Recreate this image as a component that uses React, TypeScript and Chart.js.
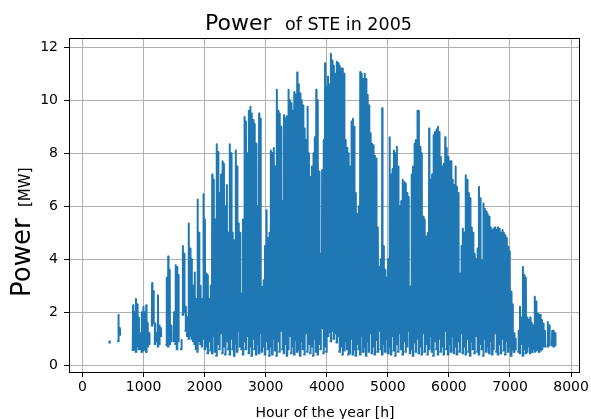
import React, { useEffect, useRef } from "react";
import { Chart, registerables } from "chart.js";

Chart.register(...registerables);

const FONT = "'DejaVu Sans', 'Liberation Sans', sans-serif";

const xTicks = [0, 1000, 2000, 3000, 4000, 5000, 6000, 7000, 8000];
const yTicks = [0, 2, 4, 6, 8, 10, 12];

// first day of the year (0-based) with output
const firstDay = 18;
// hours of the day used for a day's start, peak, end and night break
const riseHour = 7;
const noonHour = 12;
const setHour = 17;
const nightHour = 20;

// daily peak power [MW], day 18 .. day 322 (null = no output that day)
const dailyPeak: (number | null)[] = [
  0.9, null, null, null, null, null, 1.9, 1.4, null, null, // 18
  null, null, null, null, null, null, 2.26, 2.0, 2.5, 2.3, // 28
  1.8, 1.2, 2.0, 2.2, 2.0, 2.26, 1.6, 1.2, null, 3.1, // 38
  2.8, 1.57, 1.2, 2.64, 1.5, 1.4, null, null, null, 3.3, // 48
  4.1, 3.6, 1.5, null, 2.0, 3.77, 3.7, 3.4, null, 0.95, // 58
  4.5, 4.2, 2.2, 1.8, 5.35, 4.4, 4.0, 3.0, 3.5, 2.5, // 68
  6.25, 5.0, 3.0, 2.5, 6.45, 5.5, 3.46, 3.4, 2.5, 3.0, // 78
  7.2, 7.0, 5.5, 8.34, 8.05, 6.5, 7.2, 7.7, 7.6, 6.0, // 88
  6.8, 5.0, 8.34, 8.0, 5.0, 4.7, 8.1, 7.5, 5.35, 5.0, // 98
  2.7, 5.5, 9.37, 9.2, 8.0, 9.6, 9.75, 9.5, 9.25, 9.1, // 108
  8.36, 6.0, 9.5, 9.3, 2.95, 3.2, 4.5, 5.85, 4.8, 5.0, // 118
  8.1, 8.0, 8.2, 7.5, 10.4, 9.6, 9.5, 9.0, 6.2, 9.43, // 128
  9.3, 9.4, 10.4, 10.0, 9.9, 9.6, 10.3, 10.2, 11.05, 10.6, // 138
  10.25, 10.0, 9.8, 8.93, 8.5, 9.75, 8.0, 7.1, 7.5, 8.0, // 148
  8.6, 10.4, 10.0, 7.3, 4.2, 7.36, 8.5, 11.4, 10.5, 10.9, // 158
  10.6, 11.76, 11.5, 11.3, 11.0, 11.45, 11.4, 11.3, 11.2, 11.2, // 168
  11.0, 8.5, 8.2, 8.0, 7.5, 9.2, 9.3, 9.0, 6.5, 5.7, // 178
  6.0, 11.07, 11.0, 10.8, 11.0, 10.8, 10.2, 9.8, 8.75, 8.36, // 188
  8.3, 7.9, 7.8, 5.2, 3.7, 4.0, 9.7, 4.5, 3.6, 3.3, // 198
  4.0, 8.6, 7.2, 7.4, 8.1, 8.0, 8.24, 7.5, 6.0, 6.2, // 208
  7.0, 6.9, 6.86, 6.5, 6.35, 2.96, 7.2, 7.5, 8.36, 8.5, // 218
  9.6, 9.6, 8.24, 8.0, 5.6, 5.5, 4.85, 5.0, 8.93, 7.0, // 228
  7.2, 8.68, 8.8, 8.9, 9.0, 8.8, 7.86, 7.5, 7.6, 8.6, // 238
  8.2, 7.86, 7.7, 7.7, 7.0, 6.8, 7.5, 6.73, 6.5, 3.46, // 248
  4.5, 5.16, 5.0, 7.17, 7.0, 6.5, 6.3, 5.2, 5.0, 4.2, // 258
  4.0, 4.4, 6.73, 6.3, 3.96, 6.1, 5.9, 5.8, 5.7, 5.6, // 268
  5.2, 5.1, 5.16, 5.2, 5.1, 5.2, 5.15, 5.0, 5.1, 5.0, // 278
  4.9, 4.8, 4.47, 4.3, 2.77, 2.3, 1.2, 1.0, null, 1.3, // 288
  2.2, 1.8, 3.7, 3.4, 3.3, 1.8, 1.7, 1.8, 1.6, 1.5, // 298
  2.58, 2.4, 1.95, 1.9, 1.9, 1.7, 1.57, 1.3, null, 1.63, // 308
  1.5, null, 1.3, 1.3, 1.2, // 318
];

// daily morning / evening power [MW], same days
const dailyLow: (number | null)[] = [
  0.85, null, null, null, null, null, 0.9, 1.15, null, null, // 18
  null, null, null, null, null, null, 0.57, 0.6, 0.5, 0.7, // 28
  0.6, 0.6, 0.5, 0.55, 0.6, 0.5, 0.7, 0.8, null, 1.5, // 38
  1.6, 0.8, 0.9, 0.7, 0.8, 1.1, null, null, null, 0.75, // 48
  0.7, 0.8, 0.9, null, 0.9, 0.8, 0.6, 0.9, null, 0.6, // 58
  1.9, 2.0, 1.3, 1.1, 1.0, 1.1, 1.0, 0.9, 0.8, 0.6, // 68
  0.5, 0.9, 0.8, 0.7, 1.0, 0.6, 0.7, 0.45, 0.9, 0.55, // 78
  0.45, 1.1, 0.5, 0.35, 0.8, 0.6, 1.2, 0.45, 0.7, 0.4, // 88
  0.9, 0.6, 0.4, 1.0, 0.6, 0.35, 0.8, 0.5, 1.3, 0.7, // 98
  0.6, 0.4, 0.9, 0.6, 1.1, 0.45, 0.7, 0.35, 1.0, 0.6, // 108
  0.4, 0.8, 0.45, 1.2, 0.5, 0.7, 0.4, 0.9, 0.6, 0.35, // 118
  0.7, 0.4, 1.0, 0.55, 0.35, 0.9, 0.5, 1.3, 0.6, 0.45, // 128
  0.8, 0.35, 0.6, 1.1, 0.45, 0.7, 0.4, 0.95, 0.5, 0.6, // 138
  0.35, 0.9, 0.6, 0.4, 1.2, 0.5, 0.8, 0.45, 0.7, 0.35, // 148
  1.0, 0.5, 0.4, 0.8, 0.6, 1.4, 0.45, 0.7, 0.5, 1.1, // 158
  1.25, 0.9, 1.3, 1.0, 1.2, 0.85, 1.1, 0.5, 0.7, 0.4, // 168
  0.55, 0.9, 0.6, 0.4, 0.45, 1.0, 0.4, 0.6, 0.35, 0.8, // 178
  0.6, 0.4, 1.1, 0.5, 0.7, 0.35, 0.9, 0.5, 1.2, 0.45, // 188
  0.7, 0.4, 0.95, 0.5, 1.3, 0.6, 0.4, 0.8, 0.5, 1.0, // 198
  0.45, 0.7, 0.4, 1.1, 0.55, 0.35, 0.8, 0.5, 1.2, 0.6, // 208
  0.4, 0.9, 0.5, 0.7, 1.3, 0.45, 0.6, 0.35, 0.85, 0.5, // 218
  1.0, 0.45, 0.7, 0.4, 1.2, 0.5, 0.8, 0.4, 0.6, 1.1, // 228
  0.5, 0.35, 0.9, 0.6, 0.4, 1.0, 0.5, 0.7, 0.4, 1.3, // 238
  0.6, 0.4, 0.8, 0.5, 1.1, 0.45, 0.7, 0.4, 0.9, 0.5, // 248
  1.2, 0.45, 0.7, 0.4, 1.0, 0.5, 0.35, 0.9, 0.6, 0.45, // 258
  1.1, 0.5, 0.4, 0.8, 0.6, 0.35, 1.0, 0.5, 0.7, 0.45, // 268
  0.9, 0.4, 0.6, 1.2, 0.5, 0.4, 0.8, 0.45, 1.0, 0.55, // 278
  0.4, 0.9, 0.5, 0.7, 0.35, 0.6, 0.5, 0.6, null, 0.5, // 288
  0.45, 0.8, 0.35, 0.6, 0.45, 0.5, 0.7, 0.45, 0.5, 0.6, // 298
  0.5, 0.55, 0.6, 0.5, 0.55, 0.6, 0.7, 0.7, null, 0.7, // 308
  0.75, null, 0.75, 0.7, 0.75, // 318
];

function buildSeries() {
  const pts: { x: number; y: number | null }[] = [];
  dailyPeak.forEach((peak, i) => {
    const d0 = (firstDay + i) * 24;
    const low = dailyLow[i];
    if (peak === null || low === null) {
      pts.push({ x: d0 + noonHour, y: null });
      return;
    }
    pts.push(
      { x: d0 + riseHour, y: low },
      { x: d0 + noonHour, y: peak },
      { x: d0 + setHour, y: low },
      { x: d0 + nightHour, y: null }
    );
  });
  return pts;
}

const annotate = {
  id: "annotate",
  afterDatasetsDraw(chart: any) {
    const { ctx, chartArea: a } = chart;
    ctx.save();
    ctx.strokeStyle = "#000";
    ctx.lineWidth = 1;
    ctx.strokeRect(a.left + 0.5, a.top + 0.5, a.right - a.left, a.bottom - a.top);
    ctx.restore();
  },
  afterDraw(chart: any) {
    const { ctx } = chart;
    ctx.save();
    ctx.fillStyle = "#000";
    ctx.textBaseline = "alphabetic";
    ctx.textAlign = "left";
    // title
    ctx.font = `22px ${FONT}`;
    ctx.fillText("Power", 205, 30);
    ctx.font = `17.5px ${FONT}`;
    ctx.fillText("of STE in 2005", 285, 30);
    // x label
    ctx.textAlign = "center";
    ctx.font = `14px ${FONT}`;
    ctx.fillText("Hour of the year [h]", 325, 417);
    // y label
    ctx.textAlign = "left";
    ctx.translate(30, 297);
    ctx.rotate(-Math.PI / 2);
    ctx.font = `26px ${FONT}`;
    ctx.fillText("Power", 0, 0);
    ctx.font = `15px ${FONT}`;
    ctx.fillText("[MW]", 90, 0);
    ctx.restore();
  },
};

export default function App() {
  const ref = useRef<HTMLCanvasElement | null>(null);
  useEffect(() => {
    if (!ref.current) return;
    const tickFont = { family: FONT, size: 14 };
    const chart = new Chart(ref.current, {
      type: "line",
      data: {
        datasets: [
          {
            data: buildSeries() as any,
            borderColor: "#1f77b4",
            backgroundColor: "#1f77b4",
            borderWidth: 2,
            pointRadius: 0,
            pointHoverRadius: 0,
            tension: 0,
            spanGaps: false,
            borderJoinStyle: "round",
            borderCapStyle: "square",
            fill: false,
          },
        ],
      },
      options: {
        responsive: false,
        animation: false,
        devicePixelRatio: 1,
        events: [],
        layout: { padding: { top: 38, right: 9, left: 0, bottom: 0 } },
        plugins: {
          legend: { display: false },
          title: { display: false },
          tooltip: { enabled: false },
        },
        scales: {
          x: {
            type: "linear",
            min: -221,
            max: 8130,
            afterBuildTicks: (s: any) => {
              s.ticks = xTicks.map((v) => ({ value: v }));
            },
            afterFit: (s: any) => {
              s.height = 47;
            },
            ticks: {
              font: tickFont,
              color: "#000",
              padding: 2,
              maxRotation: 0,
              autoSkip: false,
              callback: (v: any) => String(v),
            },
            grid: {
              color: "#b0b0b0",
              lineWidth: 1,
              tickColor: "#000",
              tickLength: 5,
              drawTicks: true,
            },
            border: { display: false },
          },
          y: {
            type: "linear",
            min: -0.26,
            max: 12.35,
            afterBuildTicks: (s: any) => {
              s.ticks = yTicks.map((v) => ({ value: v }));
            },
            afterFit: (s: any) => {
              s.width = 69;
            },
            ticks: {
              font: tickFont,
              color: "#000",
              padding: 6,
              autoSkip: false,
              callback: (v: any) => String(v),
            },
            grid: {
              color: "#b0b0b0",
              lineWidth: 1,
              tickColor: "#000",
              tickLength: 5,
              drawTicks: true,
            },
            border: { display: false },
          },
        },
      },
      plugins: [annotate],
    });
    return () => chart.destroy();
  }, []);

  return (
    <div style={{ position: "fixed", left: 0, top: 0, width: 591, height: 419, background: "#fff" }}>
      <canvas ref={ref} width={591} height={419} style={{ width: 591, height: 419, display: "block" }} />
    </div>
  );
}
